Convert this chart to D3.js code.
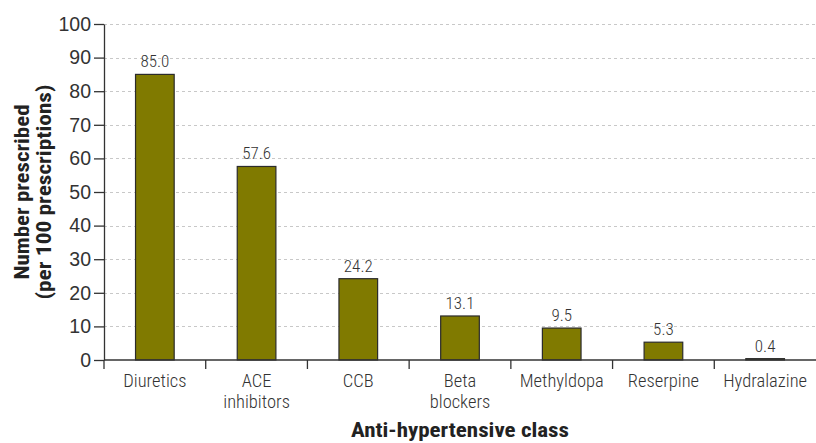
<!DOCTYPE html>
<html>
<head>
<meta charset="utf-8">
<script src="https://cdn.jsdelivr.net/npm/d3@7"></script>
<style>
  body { margin: 0; background: #fff; }
  svg { display: block; font-family: "Liberation Sans Narrow", "Arial Narrow", "Roboto Condensed", sans-serif; }
</style>
</head>
<body>
<script>
// chart data
const categories = ["Diuretics", "ACE\ninhibitors", "CCB", "Beta\nblockers", "Methyldopa", "Reserpine", "Hydralazine"];
const values = [85.0, 57.6, 24.2, 13.1, 9.5, 5.3, 0.4];
const yTicks = [0, 10, 20, 30, 40, 50, 60, 70, 80, 90, 100];

const W = 816, H = 443;
const margin = {left: 104, right: 0, top: 24, bottom: 83};

const svg = d3.select("body").append("svg")
  .attr("width", W)
  .attr("height", H);

const x = d3.scaleBand()
  .domain(categories)
  .range([margin.left, W - margin.right])
  .paddingInner(0.62)
  .paddingOuter(0.31);

const y = d3.scaleLinear()
  .domain([0, 100])
  .range([H - margin.bottom, margin.top]);

const ink = "#333";

// grid lines
svg.append("g")
  .selectAll("line")
  .data(yTicks.filter(d => d > 0))
  .enter().append("line")
  .attr("x1", margin.left)
  .attr("x2", W - margin.right)
  .attr("y1", d => Math.round(y(d)) + 0.5)
  .attr("y2", d => Math.round(y(d)) + 0.5)
  .attr("stroke", "#c8c8c8")
  .attr("stroke-dasharray", "3,3");

// bars
svg.append("g")
  .selectAll("rect")
  .data(values)
  .enter().append("rect")
  .attr("x", (d, i) => x(categories[i]))
  .attr("y", d => y(d))
  .attr("width", x.bandwidth())
  .attr("height", d => y(0) - y(d))
  .attr("fill", "#807a00")
  .attr("stroke", "#2b2b2b")
  .attr("stroke-width", 1.2);

// value labels
svg.append("g")
  .selectAll("text")
  .data(values)
  .enter().append("text")
  .attr("x", (d, i) => x(categories[i]) + x.bandwidth() / 2)
  .attr("y", d => y(d) - 7)
  .attr("text-anchor", "middle")
  .attr("font-size", "17px")
  .attr("font-weight", 300)
  .attr("fill", ink)
  .text(d => d.toFixed(1));

// y axis
const yAxis = svg.append("g")
  .attr("transform", `translate(${margin.left},0)`)
  .call(d3.axisLeft(y).tickValues(yTicks).tickSize(10).tickPadding(3).tickSizeOuter(0));
yAxis.select(".domain").attr("stroke", ink).attr("stroke-width", 1.3);
yAxis.selectAll(".tick line").attr("stroke", ink).attr("stroke-width", 1.3);
yAxis.selectAll(".tick text")
  .attr("font-size", "19.5px")
  .attr("font-weight", 300)
  .attr("fill", ink)
  .attr("font-family", null);

// x axis: ticks at band boundaries
const xAxis = svg.append("g")
  .attr("transform", `translate(0,${y(0)})`);
xAxis.append("line")
  .attr("x1", margin.left)
  .attr("x2", W)
  .attr("stroke", ink)
  .attr("stroke-width", 1.3);
xAxis.selectAll("line.tk")
  .data(categories)
  .enter().append("line")
  .attr("class", "tk")
  .attr("x1", (d, i) => margin.left + i * x.step())
  .attr("x2", (d, i) => margin.left + i * x.step())
  .attr("y1", 0)
  .attr("y2", 9)
  .attr("stroke", ink)
  .attr("stroke-width", 1.3);

// category labels, one text per line
const catGroups = xAxis.selectAll("g.cat")
  .data(categories)
  .enter().append("g")
  .attr("class", "cat")
  .attr("transform", d => `translate(${x(d) + x.bandwidth() / 2},27)`);
catGroups.selectAll("text")
  .data(d => d.split("\n"))
  .enter().append("text")
  .attr("y", (d, i) => i * 21)
  .attr("text-anchor", "middle")
  .attr("font-size", "18.5px")
  .attr("font-weight", 300)
  .attr("fill", ink)
  .text(d => d);

// axis titles
svg.append("text")
  .attr("x", (margin.left + W) / 2)
  .attr("y", 437)
  .attr("text-anchor", "middle")
  .attr("font-size", "20px")
  .attr("font-weight", "bold")
  .attr("fill", "#222")
  .attr("textLength", 218)
  .attr("lengthAdjust", "spacingAndGlyphs")
  .text("Anti-hypertensive class");

const yTitle = svg.append("g")
  .attr("transform", `translate(29,${(y(0) + y(100)) / 2}) rotate(-90)`);
yTitle.append("text")
  .attr("text-anchor", "middle")
  .attr("font-size", "20px")
  .attr("font-weight", "bold")
  .attr("fill", "#222")
  .attr("textLength", 175)
  .attr("lengthAdjust", "spacingAndGlyphs")
  .text("Number prescribed");
yTitle.append("text")
  .attr("y", 22)
  .attr("text-anchor", "middle")
  .attr("font-size", "20px")
  .attr("font-weight", "bold")
  .attr("fill", "#222")
  .attr("textLength", 215)
  .attr("lengthAdjust", "spacingAndGlyphs")
  .text("(per 100 prescriptions)");
</script>
</body>
</html>
